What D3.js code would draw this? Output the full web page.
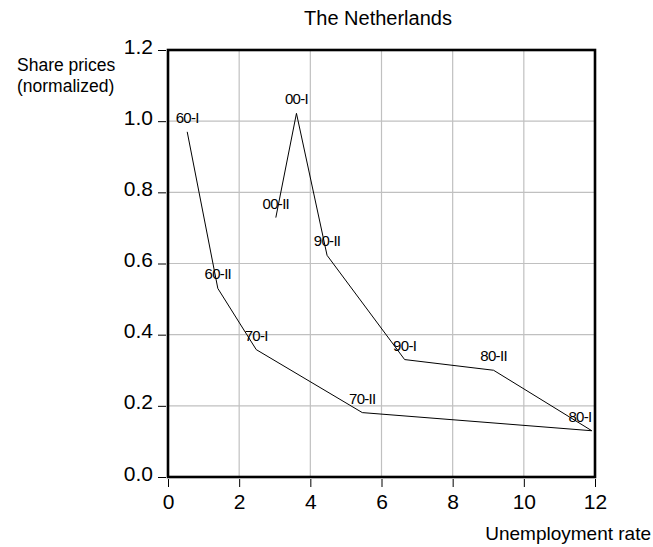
<!DOCTYPE html>
<html>
<head>
<meta charset="utf-8">
<script src="https://cdn.jsdelivr.net/npm/d3@7"></script>
<style>
body { margin: 0; background: #fff; }
text { font-family: "Liberation Sans", Arial, sans-serif; fill: #000; }
</style>
</head>
<body>
<div id="chart"></div>
<script>
// share prices against unemployment, half-decades
var periods = ["60-I", "60-II", "70-I", "70-II", "80-I", "80-II", "90-I", "90-II", "00-I", "00-II"];
var unemployment = [0.54, 1.40, 2.48, 5.46, 11.91, 9.15, 6.65, 4.47, 3.61, 3.03];
var sharePrices = [0.97, 0.53, 0.358, 0.181, 0.13, 0.30, 0.33, 0.623, 1.022, 0.729];
var xTicks = [0, 2, 4, 6, 8, 10, 12];
var yTicks = [0.0, 0.2, 0.4, 0.6, 0.8, 1.0, 1.2];

var width = 653, height = 547;
var plotLeft = 168, plotRight = 595, plotTop = 50, plotBottom = 477;

var svg = d3.select("#chart").append("svg")
    .attr("width", width)
    .attr("height", height);

var x = d3.scaleLinear().domain([0, 12]).range([plotLeft, plotRight]);
var y = d3.scaleLinear().domain([0, 1.2]).range([plotBottom, plotTop]);

// grid
svg.append("g").selectAll("line")
    .data(xTicks.slice(1, -1))
    .enter().append("line")
    .attr("x1", function(d) { return x(d); })
    .attr("x2", function(d) { return x(d); })
    .attr("y1", plotTop).attr("y2", plotBottom)
    .attr("stroke", "#c0c0c0").attr("stroke-width", 1.2);

svg.append("g").selectAll("line")
    .data(yTicks.slice(1, -1))
    .enter().append("line")
    .attr("x1", plotLeft).attr("x2", plotRight)
    .attr("y1", function(d) { return y(d); })
    .attr("y2", function(d) { return y(d); })
    .attr("stroke", "#c0c0c0").attr("stroke-width", 1.2);

// axes
var xAxis = d3.axisBottom(x).tickValues(xTicks).tickSize(8).tickPadding(7)
    .tickFormat(d3.format("d"));
var yAxis = d3.axisLeft(y).tickValues(yTicks).tickSize(8).tickPadding(5)
    .tickFormat(d3.format(".1f"));

var gx = svg.append("g").attr("transform", "translate(0," + (plotBottom + 2) + ")").call(xAxis);
var gy = svg.append("g").attr("transform", "translate(" + (plotLeft - 2) + ",0)").call(yAxis);
[gx, gy].forEach(function(g) {
    g.select(".domain").remove();
    g.selectAll(".tick line").attr("stroke", "#000").attr("stroke-width", 1);
    g.selectAll(".tick text")
        .style("font-size", "21px")
        .style("font-family", "'Liberation Sans', Arial, sans-serif")
        .attr("fill", "#000");
});
gy.selectAll(".tick text").attr("dy", "0.15em");
gx.selectAll(".tick text").attr("dy", "0.72em");

// frame
svg.append("rect")
    .attr("x", plotLeft).attr("y", plotTop)
    .attr("width", plotRight - plotLeft).attr("height", plotBottom - plotTop)
    .attr("fill", "none").attr("stroke", "#000").attr("stroke-width", 2.6);

// path
var pts = periods.map(function(p, i) { return [unemployment[i], sharePrices[i], p]; });
var line = d3.line()
    .x(function(d) { return x(d[0]); })
    .y(function(d) { return y(d[1]); });

svg.append("path")
    .datum(pts)
    .attr("d", line)
    .attr("fill", "none")
    .attr("stroke", "#000")
    .attr("stroke-width", 1);

// point labels
svg.append("g").selectAll("text")
    .data(pts)
    .enter().append("text")
    .attr("x", function(d) { return Math.min(x(d[0]), plotRight - 15); })
    .attr("y", function(d) { return y(d[1]) - 9; })
    .attr("text-anchor", "middle")
    .style("font-size", "15px")
    .style("letter-spacing", "-0.7px")
    .text(function(d) { return d[2]; });

// titles
svg.append("text")
    .attr("x", 378).attr("y", 25)
    .attr("text-anchor", "middle")
    .style("font-size", "20px")
    .text("The Netherlands");

svg.append("text")
    .attr("x", 17).attr("y", 71)
    .style("font-size", "17.5px")
    .text("Share prices");
svg.append("text")
    .attr("x", 17).attr("y", 92)
    .style("font-size", "17.5px")
    .text("(normalized)");

svg.append("text")
    .attr("x", 651).attr("y", 540)
    .attr("text-anchor", "end")
    .style("font-size", "19px")
    .text("Unemployment rate");
</script>
</body>
</html>
